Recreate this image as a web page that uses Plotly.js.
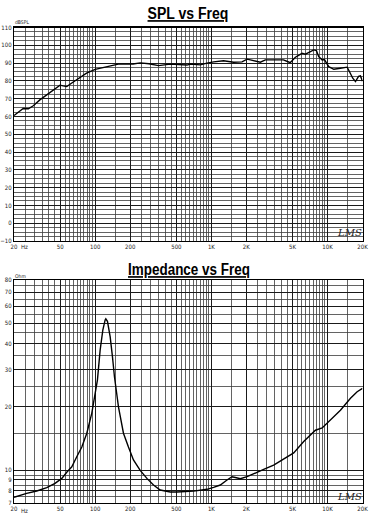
<!DOCTYPE html>
<html>
<head>
<meta charset="utf-8">
<script src="https://cdn.plot.ly/plotly-3.0.1.min.js"></script>
<style>html,body{margin:0;padding:0;background:#fff;}#chart{width:369px;height:515px;}</style>
</head>
<body>
<div id="chart"></div>
<script>
// ---- data ----
const splFreq = [20,20.4,22.5,24,26.6,29.3,33.4,38.1,43.6,49.8,53,56.9,62,69.5,84.2,100,110,134,158,212,244,290,351,442,560,617,658,802,917,1046,1274,1456,1556,1836,2028,2166,2640,2916,3680,4168,4632,4790,5288,6040,6454,6890,7610,8020,8400,8990,9400,10240,11320,12920,14760,15500,16500,17400,18500,19200,20000];
const splDb = [60.5,60.9,63.2,64.5,64.3,66,69.3,72.1,75,77.6,77.2,76.8,78.5,80.6,84.3,86.5,87.1,88.6,89.4,89.5,90.1,89.6,88.6,89.4,89.0,88.9,89.5,89.0,90.0,90.7,91.3,91.0,90.5,90.7,92.2,91.8,90.5,91.8,91.8,91.8,90.6,90.3,93.3,95.5,95.0,96.1,97.4,97.0,93.6,91.8,92.0,88.0,86.5,87.1,87.7,85,81.5,79.6,82.5,82.8,79.8];

const impFreq = [20,20.8,25.7,31.4,38.3,45.1,51.6,56.9,62.9,69.4,76.7,84.7,93.5,99.9,104.5,110.3,116.3,121.8,123.4,127.5,134.5,140.8,146.5,158.6,175.1,193.3,213.5,244,278.6,317.6,362.8,442.6,505,703,917,1045,1194,1364,1506,1608,1776,2028,2314,2820,3438,4194,5114,6238,7868,8988,10594,12914,15760,17992,20000];
const impOhm = [7.45,7.5,7.78,7.98,8.28,8.68,9.16,9.8,10.4,11.6,12.9,15.0,18.7,23.2,26.8,37.2,46.3,51.7,52.3,50.9,43.1,34.6,27.8,20.0,15.0,12.9,11.2,10.0,9.16,8.52,8.07,7.9,7.9,7.97,8.13,8.31,8.52,9.0,9.33,9.25,9.13,9.33,9.61,10.1,10.6,11.3,12.1,13.7,15.5,15.9,17.3,19.3,22.0,23.6,24.5];

const xTickVals = [20,50,100,200,500,1000,2000,5000,10000,20000];
const xTickText = ['20','50','100','200','500','1K','2K','5K','10K','20K'];
const splTickVals = [-10,0,10,20,30,40,50,60,70,80,90,100,110];
const impTickVals = [7,8,9,10,20,30,40,50,60,70,80];

// ---- grid positions (chart paper style) ----
const xGrid = [];
for (let f = 20; f < 100; f += 5) xGrid.push(f);
for (let f = 100; f < 1000; f += 50) xGrid.push(f);
for (let f = 1000; f < 10000; f += 500) xGrid.push(f);
for (let f = 10000; f <= 20000; f += 5000) xGrid.push(f);
const splGrid = [];
for (let v = -10; v <= 110; v += 2.5) splGrid.push(v);
const impGrid = [];
for (let v = 7; v < 10; v += 0.5) impGrid.push(v);
for (let v = 10; v <= 80; v += 5) impGrid.push(v);

const W = 369, H = 515;
const px = v => v / W;
const py = v => (H - v) / H;

const tickFont = {family: '"Liberation Sans Narrow", "Arial Narrow", "DejaVu Sans Condensed", sans-serif', size: 6, color: '#222'};
const titleFont = {family: '"Liberation Sans", Arial, sans-serif', size: 17, color: '#000'};

function xAxis(anchor) {
  return {
    type: 'log', range: [Math.log10(20), Math.log10(20000)],
    domain: [px(14), px(362.5)], anchor: anchor,
    tickmode: 'array', tickvals: xTickVals, ticktext: xTickText,
    tickfont: tickFont, ticks: '', showgrid: true, gridcolor: '#1a1a1a', gridwidth: 1,
    minor: {tickmode: 'array', tickvals: xGrid, showgrid: true, gridcolor: '#3c3c3c', gridwidth: 0.8, ticks: ''},
    showline: true, mirror: true, linecolor: '#000', linewidth: 1.2,
    zeroline: false, fixedrange: true, automargin: false
  };
}

const data = [
  {x: splFreq, y: splDb, xaxis: 'x', yaxis: 'y', type: 'scatter', mode: 'lines',
   line: {color: '#000', width: 1.4}, hoverinfo: 'skip'},
  {x: impFreq, y: impOhm, xaxis: 'x2', yaxis: 'y2', type: 'scatter', mode: 'lines',
   line: {color: '#000', width: 1.4}, hoverinfo: 'skip'}
];

const layout = {
  width: W, height: H,
  margin: {l: 0, r: 0, t: 0, b: 0},
  paper_bgcolor: '#fff', plot_bgcolor: '#fff',
  showlegend: false,
  xaxis: xAxis('y'),
  xaxis2: xAxis('y2'),
  yaxis: {
    range: [-10, 110], domain: [py(241), py(27.5)], anchor: 'x',
    tickmode: 'array', tickvals: splTickVals, tickfont: tickFont, ticks: '',
    showgrid: true, gridcolor: '#1a1a1a', gridwidth: 1,
    minor: {tickmode: 'array', tickvals: splGrid, showgrid: true, gridcolor: '#3c3c3c', gridwidth: 0.8, ticks: ''},
    showline: true, mirror: true, linecolor: '#000', linewidth: 1.2,
    zeroline: false, fixedrange: true, automargin: false
  },
  yaxis2: {
    type: 'log', range: [Math.log10(7), Math.log10(80)], domain: [py(503), py(280)], anchor: 'x2',
    tickmode: 'array', tickvals: impTickVals, ticktext: impTickVals.map(String), tickfont: tickFont, ticks: '',
    showgrid: true, gridcolor: '#1a1a1a', gridwidth: 1,
    minor: {tickmode: 'array', tickvals: impGrid, showgrid: true, gridcolor: '#3c3c3c', gridwidth: 0.8, ticks: ''},
    showline: true, mirror: true, linecolor: '#000', linewidth: 1.2,
    zeroline: false, fixedrange: true, automargin: false
  },
  annotations: [
    {text: '<b><u>SPL vs Freq</u></b>', xref: 'paper', yref: 'paper', x: px(188), y: py(13.5),
     xanchor: 'center', yanchor: 'middle', showarrow: false, font: titleFont},
    {text: '<b><u>Impedance vs Freq</u></b>', xref: 'paper', yref: 'paper', x: px(189), y: py(269.5),
     xanchor: 'center', yanchor: 'middle', showarrow: false, font: titleFont},
    {text: 'dBSPL', xref: 'paper', yref: 'paper', x: px(13), y: py(22), xanchor: 'left', yanchor: 'middle',
     showarrow: false, font: {family: tickFont.family, size: 5, color: '#222'}},
    {text: 'Ohm', xref: 'paper', yref: 'paper', x: px(13), y: py(276), xanchor: 'left', yanchor: 'middle',
     showarrow: false, font: {family: tickFont.family, size: 5, color: '#222'}},
    {text: 'Hz', xref: 'paper', yref: 'paper', x: px(25), y: py(247), xanchor: 'center', yanchor: 'middle',
     showarrow: false, font: tickFont},
    {text: 'Hz', xref: 'paper', yref: 'paper', x: px(25), y: py(510), xanchor: 'center', yanchor: 'middle',
     showarrow: false, font: tickFont},
    {text: '<i>LMS</i>', xref: 'paper', yref: 'paper', x: px(349), y: py(233), xanchor: 'center', yanchor: 'middle',
     showarrow: false, font: {family: '"DejaVu Serif", serif', size: 10, color: '#222'}},
    {text: '<i>LMS</i>', xref: 'paper', yref: 'paper', x: px(349), y: py(496), xanchor: 'center', yanchor: 'middle',
     showarrow: false, font: {family: '"DejaVu Serif", serif', size: 10, color: '#222'}}
  ]
};

const titleWidths = {'SPL vs Freq': 81, 'Impedance vs Freq': 122};

Plotly.newPlot('chart', data, layout, {staticPlot: true, displayModeBar: false}).then(function () {
  // condense the bold titles horizontally, like the narrow face of the original
  document.querySelectorAll('.annotation-text').forEach(function (t) {
    const target = titleWidths[t.textContent];
    if (!target) return;
    const bb = t.getBBox();
    const s = target / bb.width;
    const cx = bb.x + bb.width / 2;
    t.setAttribute('transform', 'translate(' + cx + ',0) scale(' + s + ',1) translate(' + (-cx) + ',0)');
  });
});
</script>
</body>
</html>
